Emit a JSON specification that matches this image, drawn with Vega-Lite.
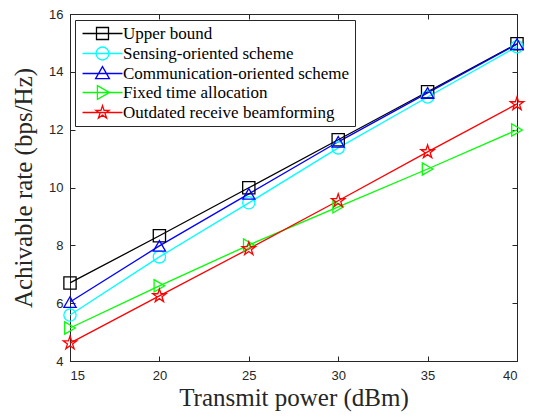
{
  "$schema": "https://vega.github.io/schema/vega-lite/v6.json",
  "width": 447,
  "height": 347,
  "autosize": {"type": "none"},
  "padding": {"left": 70, "top": 14, "right": 23, "bottom": 56},
  "background": "white",
  "config": {
    "view": {"stroke": "#262626", "strokeWidth": 1},
    "axis": {
      "labelFont": "Liberation Sans",
      "labelFontSize": 13,
      "labelColor": "#262626",
      "titleFont": "Liberation Serif",
      "titleFontSize": 25,
      "titleFontWeight": "normal",
      "titleColor": "#262626",
      "gridColor": "#dedede",
      "gridWidth": 1,
      "domainColor": "#262626",
      "tickColor": "#262626",
      "tickSize": -5
    }
  },
  "data": {
    "values": [
      {"p": 15, "rate": 6.70, "s": "Upper bound"},
      {"p": 20, "rate": 8.33, "s": "Upper bound"},
      {"p": 25, "rate": 9.99, "s": "Upper bound"},
      {"p": 30, "rate": 11.65, "s": "Upper bound"},
      {"p": 35, "rate": 13.31, "s": "Upper bound"},
      {"p": 40, "rate": 14.97, "s": "Upper bound"},
      {"p": 15, "rate": 5.59, "s": "Sensing-oriented scheme"},
      {"p": 20, "rate": 7.60, "s": "Sensing-oriented scheme"},
      {"p": 25, "rate": 9.47, "s": "Sensing-oriented scheme"},
      {"p": 30, "rate": 11.37, "s": "Sensing-oriented scheme"},
      {"p": 35, "rate": 13.13, "s": "Sensing-oriented scheme"},
      {"p": 40, "rate": 14.87, "s": "Sensing-oriented scheme"},
      {"p": 15, "rate": 6.04, "s": "Communication-oriented scheme"},
      {"p": 20, "rate": 7.98, "s": "Communication-oriented scheme"},
      {"p": 25, "rate": 9.78, "s": "Communication-oriented scheme"},
      {"p": 30, "rate": 11.58, "s": "Communication-oriented scheme"},
      {"p": 35, "rate": 13.27, "s": "Communication-oriented scheme"},
      {"p": 40, "rate": 14.96, "s": "Communication-oriented scheme"},
      {"p": 15, "rate": 5.14, "s": "Fixed time allocation"},
      {"p": 20, "rate": 6.60, "s": "Fixed time allocation"},
      {"p": 25, "rate": 8.01, "s": "Fixed time allocation"},
      {"p": 30, "rate": 9.33, "s": "Fixed time allocation"},
      {"p": 35, "rate": 10.64, "s": "Fixed time allocation"},
      {"p": 40, "rate": 11.99, "s": "Fixed time allocation"},
      {"p": 15, "rate": 4.62, "s": "Outdated receive beamforming"},
      {"p": 20, "rate": 6.25, "s": "Outdated receive beamforming"},
      {"p": 25, "rate": 7.88, "s": "Outdated receive beamforming"},
      {"p": 30, "rate": 9.54, "s": "Outdated receive beamforming"},
      {"p": 35, "rate": 11.23, "s": "Outdated receive beamforming"},
      {"p": 40, "rate": 12.89, "s": "Outdated receive beamforming"}
    ]
  },
  "resolve": {
    "scale": {"color": "independent", "shape": "independent"},
    "legend": {"color": "independent", "shape": "independent"},
    "axis": {"x": "independent", "y": "independent"}
  },
  "layer": [
    {
      "mark": {"type": "line", "strokeWidth": 1.3},
      "encoding": {
        "x": {
          "field": "p", "type": "quantitative",
          "scale": {"domain": [15, 40], "nice": false, "zero": false},
          "axis": {"orient": "top", "values": [15, 20, 25, 30, 35, 40], "title": null, "labels": false, "grid": false, "domain": false}
        },
        "y": {
          "field": "rate", "type": "quantitative",
          "scale": {"domain": [4, 16], "nice": false, "zero": false},
          "axis": {"orient": "right", "values": [4, 6, 8, 10, 12, 14, 16], "title": null, "labels": false, "grid": false, "domain": false}
        },
        "color": {
          "field": "s", "type": "nominal",
          "scale": {
            "domain": ["Upper bound", "Sensing-oriented scheme", "Communication-oriented scheme", "Fixed time allocation", "Outdated receive beamforming"],
            "range": ["#000000", "#00ffff", "#0000ff", "#00ff00", "#ff0000"]
          },
          "legend": null
        }
      }
    },
    {
      "mark": {"type": "point", "filled": false, "size": 150, "strokeWidth": 1.3, "opacity": 1},
      "encoding": {
        "x": {
          "field": "p", "type": "quantitative",
          "scale": {"domain": [15, 40], "nice": false, "zero": false},
          "axis": {"values": [15, 20, 25, 30, 35, 40], "title": "Transmit power (dBm)", "labelPadding": 13, "titlePadding": 3}
        },
        "y": {
          "field": "rate", "type": "quantitative",
          "scale": {"domain": [4, 16], "nice": false, "zero": false},
          "axis": {"values": [4, 6, 8, 10, 12, 14, 16], "title": "Achivable rate (bps/Hz)", "labelPadding": 12, "titlePadding": 12}
        },
        "color": {
          "field": "s", "type": "nominal",
          "scale": {
            "domain": ["Upper bound", "Sensing-oriented scheme", "Communication-oriented scheme", "Fixed time allocation", "Outdated receive beamforming"],
            "range": ["#000000", "#00ffff", "#0000ff", "#00ff00", "#ff0000"]
          },
          "legend": null
        },
        "shape": {
          "field": "s", "type": "nominal",
          "scale": {
            "domain": ["Upper bound", "Sensing-oriented scheme", "Communication-oriented scheme", "Fixed time allocation", "Outdated receive beamforming"],
            "range": ["square", "circle", "triangle-up", "triangle-right", "M0,-1.15L0.258,-0.355L1.094,-0.355L0.418,0.136L0.676,0.93L0,0.439L-0.676,0.93L-0.418,0.136L-1.094,-0.355L-0.258,-0.355Z"]
          },
          "legend": null
        }
      }
    },
    {
      "transform": [{"filter": "datum.p < 0"}],
      "mark": {"type": "point", "filled": false, "size": 144, "strokeWidth": 1.3, "opacity": 1},
      "encoding": {
        "x": {
          "field": "p", "type": "quantitative",
          "scale": {"domain": [15, 40], "nice": false, "zero": false},
          "axis": null
        },
        "y": {
          "field": "rate", "type": "quantitative",
          "scale": {"domain": [4, 16], "nice": false, "zero": false},
          "axis": null
        },
        "color": {
          "field": "s", "type": "nominal",
          "scale": {
            "domain": ["Upper bound", "Sensing-oriented scheme", "Communication-oriented scheme", "Fixed time allocation", "Outdated receive beamforming"],
            "range": ["#000000", "#00ffff", "#0000ff", "#00ff00", "#ff0000"]
          },
          "legend": {
            "title": null,
            "orient": "none",
            "legendX": 5,
            "legendY": 6,
            "fillColor": "white",
            "strokeColor": "#262626",
            "padding": 5,
            "rowPadding": 1,
            "symbolSize": 144,
            "symbolStrokeWidth": 1.3,
            "symbolOffset": 14,
            "labelOffset": 12,
            "labelFont": "Liberation Serif",
            "labelFontSize": 17,
            "labelColor": "#000000",
            "labelLimit": 0
          }
        },
        "shape": {
          "field": "s", "type": "nominal",
          "scale": {
            "domain": ["Upper bound", "Sensing-oriented scheme", "Communication-oriented scheme", "Fixed time allocation", "Outdated receive beamforming"],
            "range": [
              "M-3.33,0H3.33M-1,-1H1V1H-1Z",
              "M-3.33,0H3.33M1.08,0A1.08,1.08 0 1 1 -1.08,0A1.08,1.08 0 1 1 1.08,0Z",
              "M-3.33,0H3.33M0,-1.15L1.15,0.85L-1.15,0.85Z",
              "M-3.33,0H3.33M-0.85,-1.15L1.15,0L-0.85,1.15Z",
              "M-3.33,0H3.33M0,-1.15L0.258,-0.355L1.094,-0.355L0.418,0.136L0.676,0.93L0,0.439L-0.676,0.93L-0.418,0.136L-1.094,-0.355L-0.258,-0.355Z"
            ]
          },
          "legend": {
            "title": null,
            "orient": "none",
            "legendX": 5,
            "legendY": 6,
            "fillColor": "white",
            "strokeColor": "#262626",
            "padding": 5,
            "rowPadding": 1,
            "symbolSize": 144,
            "symbolStrokeWidth": 1.3,
            "symbolOffset": 14,
            "labelOffset": 12,
            "labelFont": "Liberation Serif",
            "labelFontSize": 17,
            "labelColor": "#000000",
            "labelLimit": 0
          }
        }
      }
    }
  ]
}
